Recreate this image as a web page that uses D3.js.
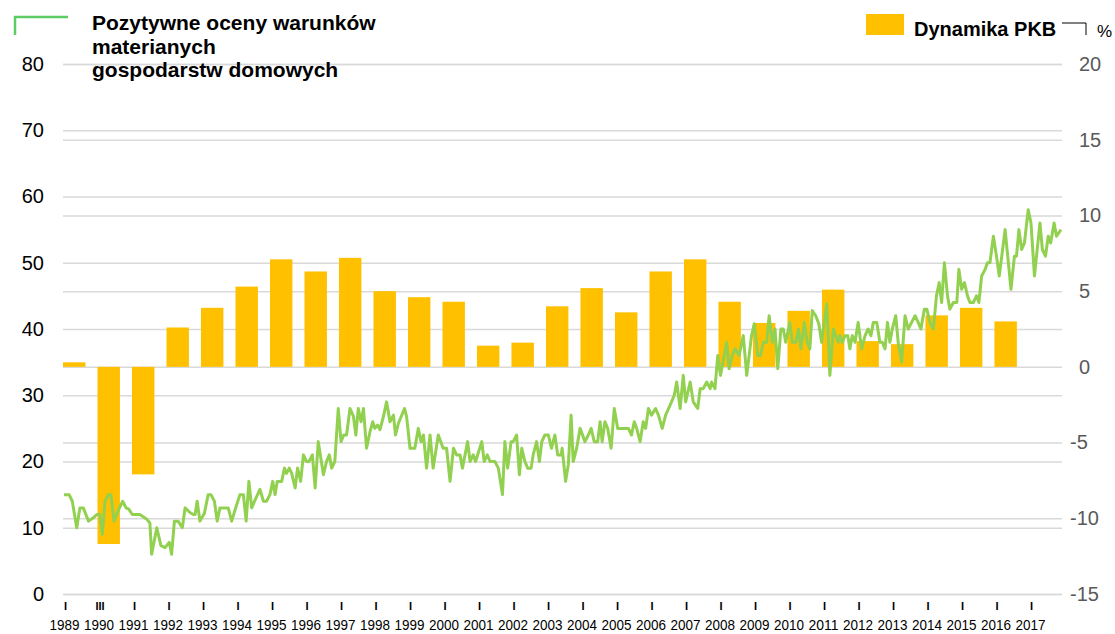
<!DOCTYPE html>
<html>
<head>
<meta charset="utf-8">
<script src="https://cdn.jsdelivr.net/npm/d3@7"></script>
<style>
  body { margin: 0; background: #fff; }
  svg { font-family: "Liberation Sans", Arial, sans-serif; }
  .grid .domain { display: none; }
  .grid line { stroke: #d9d9d9; stroke-width: 1.5; }
  .axis .domain { display: none; }
</style>
</head>
<body>
<svg id="chart" width="1115" height="634"></svg>
<script>
// category labels along the bottom
var yearLabels = ["1989","1990","1991","1992","1993","1994","1995","1996","1997","1998",
  "1999","2000","2001","2002","2003","2004","2005","2006","2007","2008",
  "2009","2010","2011","2012","2013","2014","2015","2016","2017"];
var periodMarks = ["I","III","I","I","I","I","I","I","I","I",
  "I","I","I","I","I","I","I","I","I","I",
  "I","I","I","I","I","I","I","I","I"];

// GDP growth, % (right axis)
var gdpYears = [1989,1990,1991,1992,1993,1994,1995,1996,1997,1998,1999,2000,2001,2002,
  2003,2004,2005,2006,2007,2008,2009,2010,2011,2012,2013,2014,2015,2016];
var gdpGrowth = [0.3,-11.7,-7.1,2.6,3.9,5.3,7.1,6.3,7.2,5.0,4.6,4.3,1.4,1.6,
  4.0,5.2,3.6,6.3,7.1,4.3,2.9,3.7,5.1,1.7,1.5,3.4,3.9,3.0];

// positive assessments of household material conditions, % (left axis)
var surveyDates = [
  1989.00,1989.15,1989.24,1989.37,1989.46,1989.56,1989.71,1989.85,1989.95,
  1990.04,1990.11,1990.19,1990.29,1990.36,1990.45,1990.58,1990.70,1990.80,1990.88,1990.98,
  1991.20,1991.40,1991.49,1991.54,1991.69,1991.81,1991.93,
  1992.05,1992.12,1992.20,1992.31,1992.43,1992.51,1992.65,1992.75,1992.80,1992.86,1992.94,
  1993.07,1993.18,1993.26,1993.36,1993.44,1993.52,1993.76,1993.86,
  1994.00,1994.10,1994.20,1994.28,1994.36,1994.44,1994.54,1994.68,1994.78,1994.87,1994.97,
  1995.05,1995.12,1995.18,1995.31,1995.39,1995.45,1995.53,1995.60,1995.70,1995.77,1995.86,1995.94,
  1996.03,1996.10,1996.20,1996.28,1996.37,1996.52,1996.61,1996.69,1996.76,1996.85,1996.95,
  1997.03,1997.11,1997.19,1997.29,1997.39,1997.46,1997.53,1997.61,1997.68,1997.77,1997.87,1997.95,
  1998.01,1998.09,1998.16,1998.26,1998.35,1998.45,1998.55,1998.61,1998.69,1998.87,1998.93,
  1999.03,1999.17,1999.27,1999.35,1999.42,1999.51,1999.61,1999.70,1999.85,1999.99,
  2000.09,2000.19,2000.29,2000.38,2000.48,2000.55,2000.70,2000.77,2000.86,2000.93,
  2001.11,2001.18,2001.27,2001.35,2001.49,2001.59,2001.71,2001.78,2001.86,2001.96,
  2002.02,2002.12,2002.20,2002.27,2002.36,2002.44,2002.54,2002.60,2002.70,2002.78,2002.85,2002.94,
  2003.04,2003.13,2003.23,2003.31,2003.41,2003.44,2003.54,2003.62,2003.70,2003.76,2003.86,2003.96,
  2004.10,2004.20,2004.28,2004.37,2004.47,2004.54,2004.60,2004.68,2004.76,2004.86,2004.95,
  2005.05,2005.36,2005.45,2005.53,2005.60,2005.70,2005.79,2005.86,2005.94,
  2006.03,2006.15,2006.23,2006.34,2006.44,2006.61,2006.69,2006.76,2006.86,2006.95,
  2007.02,2007.15,2007.24,2007.37,2007.44,2007.53,2007.63,2007.73,2007.77,2007.87,2007.95,
  2008.03,2008.21,2008.28,2008.37,2008.45,2008.57,2008.69,2008.79,2008.93,
  2009.01,2009.11,2009.19,2009.27,2009.37,2009.44,2009.53,2009.61,2009.69,2009.78,2009.85,2009.92,
  2010.04,2010.11,2010.21,2010.29,2010.36,2010.46,2010.54,2010.62,2010.69,2010.79,2010.88,2010.96,
  2011.11,2011.20,2011.30,2011.37,2011.44,2011.49,2011.56,2011.64,2011.72,2011.78,2011.85,2011.93,
  2012.02,2012.12,2012.22,2012.31,2012.39,2012.46,2012.56,2012.65,2012.72,2012.80,2012.87,2012.94,
  2013.01,2013.11,2013.18,2013.28,2013.38,2013.47,2013.57,2013.67,2013.76,2013.84,2013.94,
  2014.01,2014.10,2014.20,2014.29,2014.37,2014.44,2014.52,2014.61,2014.68,2014.78,2014.88,2014.94,
  2015.02,2015.10,2015.19,2015.26,2015.36,2015.45,2015.52,2015.60,2015.70,2015.77,2015.84,2015.94,
  2016.03,2016.11,2016.28,2016.45,2016.55,2016.61,2016.68,2016.76,2016.84,2016.95,
  2017.03,2017.13,2017.29,2017.36,2017.45,2017.53,2017.60,2017.70,2017.77,2017.90];
var surveyValues = [
  15,15,14,10,13,13,11,11.5,12,
  12,9,14,15,15,11,12.7,14,13,12.8,12,
  12,11.3,10.7,6,10,7.3,7,
  7.8,6,11,11,10,13,12.3,12,12,14,11,
  12.2,15,15,14,11,13,13,11,
  13.4,15,15,11,17,13,14.2,15.8,14,14,15,
  17,15,17,17,19,18.2,19,18.2,16,19,17,21,
  20,20,21,16,23,18,20,21,19,20,28,
  23,24,24,28,26.8,24,28,26,28,22,24.5,26,
  25,25.5,24.8,26.8,29,26,27,24,25.7,28,26.8,
  22,22,25,23,24,19,24,19,24,22,
  22,17,22,21,21,19,23,20,21,20,
  23,20,21,20,20,19,15,23,19,23,
  23,24,18,22,20,19,19,21,23,20,23,24,
  24,22,24,21,21,22,17,19.6,27,20,22,25,
  23,24,25,23,23,26,23,26,25,22,28,
  25,25,24,26,25,23,26,25,28,
  27,28,27,25,27,29,30,32,28,33,
  29,32,29,28,31,31,32,31,32,31,36,
  33,38,34,36,37,36,39,33,39,
  40.8,36,36,38,38,42,38,40,34,40,40,38,
  41,38,38,40,37,41,38,37,42.8,42,40.8,38,
  43.8,33,40,39,38,39,38,39,39,37,39,38,
  41,37,39,40,39,41,41,38,38,37,41,38,
  40,42,38,35,42,40,41,42,41,40,43,
  43,41,40,45,47,44,50,45,43,44,44,49,
  46,47,45,44,44,45,44,48,49,50,50,54,
  51,48,55,46,51,51,55,52,53,58,
  56,48,56,52,51,54,53,56,54,55];

var leftTicks = [0,10,20,30,40,50,60,70,80];
var rightTicks = [-15,-10,-5,0,5,10,15,20];

var svg = d3.select("#chart");
var plotLeft = 63, plotRight = 1062, plotTop = 64, plotBottom = 594;

var x = d3.scaleLinear().domain([1989, 2017.9]).range([64, 1061]);
var yL = d3.scaleLinear().domain([0, 80]).range([plotBottom, plotTop]);
var yR = d3.scaleLinear().domain([-15, 20]).range([plotBottom, plotTop]);

// gridlines + labels, left axis
var gl = svg.append("g")
  .attr("class", "grid axis")
  .attr("transform", "translate(" + plotLeft + ",0)")
  .call(d3.axisLeft(yL).tickValues(leftTicks).tickSize(-(plotRight - plotLeft)).tickPadding(19));
gl.selectAll("text").attr("fill", "#000").style("font-size", "20px");

// gridlines + labels, right axis (plain hyphen for negatives)
var gr = svg.append("g")
  .attr("class", "grid axis")
  .attr("transform", "translate(" + plotRight + ",0)")
  .call(d3.axisRight(yR).tickValues(rightTicks).tickSize(-(plotRight - plotLeft)).tickPadding(17)
    .tickFormat(function (d) { return String(d); }));
gr.selectAll("text").attr("fill", "#595959").style("font-size", "20px")
  .attr("dx", function (d) { return d < 0 ? -9 : 0; });

// bars
svg.append("g").selectAll("rect")
  .data(gdpYears)
  .enter().append("rect")
  .attr("x", function (d) { return x(d) - 1; })
  .attr("width", function (d) { return x(d + 0.65) - x(d); })
  .attr("y", function (d, i) { return Math.min(yR(gdpGrowth[i]), yR(0)); })
  .attr("height", function (d, i) { return Math.abs(yR(gdpGrowth[i]) - yR(0)); })
  .attr("fill", "#ffc000");

// survey line
var line = d3.line()
  .x(function (d) { return x(d); })
  .y(function (d, i) { return yL(surveyValues[i]); });
svg.append("path")
  .datum(surveyDates)
  .attr("d", line)
  .attr("fill", "none")
  .attr("stroke", "#92d050")
  .attr("stroke-width", 3)
  .attr("stroke-linejoin", "round");

// x axis: period marks and years
var yearTicks = gdpYears.concat([2017]);
var xm = svg.append("g")
  .attr("class", "axis")
  .attr("transform", "translate(0," + plotBottom + ")")
  .call(d3.axisBottom(x).tickValues(yearTicks).tickSize(0)
    .tickFormat(function (d, i) { return periodMarks[i]; }));
xm.selectAll("text").attr("y", 16).attr("dy", 0).attr("dx", 1)
  .attr("fill", "#000").style("font-size", "11px").style("font-weight", "bold");

var xy = svg.append("g")
  .attr("class", "axis")
  .attr("transform", "translate(0," + plotBottom + ")")
  .call(d3.axisBottom(x).tickValues(yearTicks).tickSize(0)
    .tickFormat(function (d, i) { return yearLabels[i]; }));
xy.selectAll("text").attr("y", 36).attr("dy", 0)
  .attr("fill", "#000").style("font-size", "15px")
  .attr("textLength", 30).attr("lengthAdjust", "spacingAndGlyphs");

// legend: survey line
svg.append("path")
  .attr("d", "M15,35V17H68")
  .attr("fill", "none")
  .attr("stroke", "#5ccc64")
  .attr("stroke-width", 2.5);
var lt = svg.append("text")
  .attr("x", 92)
  .attr("y", 30)
  .style("font-size", "21px")
  .style("font-weight", "bold")
  .attr("fill", "#000");
["Pozytywne oceny warunków", "materianych", "gospodarstw domowych"].forEach(function (s, i) {
  lt.append("tspan").attr("x", 92).attr("dy", i === 0 ? 0 : 23.5).text(s);
});

// legend: GDP bars
svg.append("rect")
  .attr("x", 866).attr("y", 14).attr("width", 38).attr("height", 21)
  .attr("fill", "#ffc000");
svg.append("text")
  .attr("x", 914).attr("y", 36)
  .style("font-size", "20px").style("font-weight", "bold")
  .attr("fill", "#000")
  .text("Dynamika PKB");
svg.append("path")
  .attr("d", "M1062,23H1086V35")
  .attr("fill", "none")
  .attr("stroke", "#000")
  .attr("stroke-width", 1);
svg.append("text")
  .attr("x", 1097).attr("y", 37)
  .style("font-size", "17px")
  .attr("fill", "#000")
  .text("%");
</script>
</body>
</html>
